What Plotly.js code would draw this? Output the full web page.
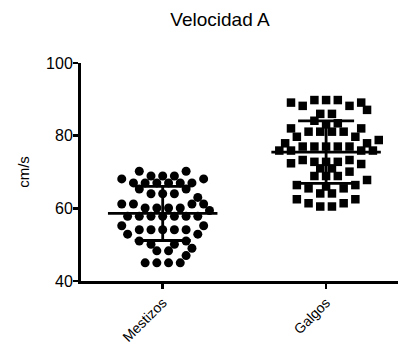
<!DOCTYPE html>
<html>
<head>
<meta charset="utf-8">
<script src="https://cdn.plot.ly/plotly-3.0.1.min.js"></script>
<style>html,body{margin:0;padding:0;background:#fff;}#chart{width:398px;height:344px;}</style>
</head>
<body>
<div id="chart"></div>
<script>
// ---- data ----
const categories = ["Mestizos", "Galgos"];
const mestizos = [
  70.2, 70.2, 68.9, 68.9, 68.9, 68.1, 68.1,
  67.0, 67.0, 67.0, 67.0, 67.0, 67.0, 65.3, 65.3,
  64.0, 64.0, 64.0, 63.0,
  61.2, 61.2, 61.2, 61.2, 60.1, 60.1, 60.1, 60.1, 59.4,
  57.8, 57.8, 57.8, 57.8, 57.8, 57.8, 57.8,
  55.2, 55.2, 54.1, 54.1, 54.1, 54.1, 54.1, 52.9, 52.9,
  51.0, 51.0, 50.1, 50.1, 49.0, 48.3, 48.3, 47.0,
  45.0, 45.0, 45.0, 45.0
];
const galgos = [
  89.8, 89.8, 89.8, 89.1, 89.1, 88.2, 88.2, 87.1, 86.0, 86.0,
  84.1, 83.4, 83.1, 82.0, 82.0, 81.1, 81.1, 81.1, 81.1,
  79.7, 79.7, 78.8, 77.9, 77.9, 77.0, 77.0, 77.0, 77.0, 77.0,
  75.9, 75.9, 75.9, 75.9, 73.3, 73.3, 72.8, 72.8, 72.8, 72.4, 72.2,
  71.0, 71.0, 70.1, 68.9, 68.9, 68.9, 67.8, 66.4, 66.4, 66.0,
  65.5, 65.5, 64.1, 64.1, 62.5, 62.5, 61.4, 61.4, 60.5, 60.5
];
const yTicks = [40, 60, 80, 100];

// ---- layout constants ----
const W = 398, H = 344;
const M = {l: 81, r: 0, t: 63, b: 63};
const XR = [-0.5, 1.44], YR = [40, 100];
const PXX = (W - M.l - M.r) / (XR[1] - XR[0]);   // px per category unit
const PXY = (H - M.t - M.b) / (YR[1] - YR[0]);   // px per value unit
const STEP = 11.7, MIN = 8.5;

// beeswarm-like horizontal spreading of equal / close values
function swarm(vals, ci) {
  const counts = new Map();
  vals.forEach(v => counts.set(v, (counts.get(v) || 0) + 1));
  const rows = [...counts].map(([v, n]) => ({v, n}));
  rows.sort((a, b) => b.n - a.n || a.v - b.v);
  const placed = [];
  const xs = [], ys = [];
  for (const r of rows) {
    const yp = r.v * PXY;
    let chosen = null;
    for (let g = 0; g <= 12 && !chosen; g += 0.5) {
      const cands = [];
      if (g === 0) {
        const o = []; for (let i = 0; i < r.n; i++) o.push(i - (r.n - 1) / 2); cands.push(o);
      } else {
        const nl = Math.floor(r.n / 2), nr = r.n - nl;
        const a = [], b = [];
        for (let i = 0; i < nl; i++) { a.push(-(g + i)); b.push(g + i); }
        for (let i = 0; i < nr; i++) { a.push(g + i); b.push(-(g + i)); }
        cands.push(a); if (nl !== nr) cands.push(b);
      }
      for (const offs of cands) {
        const ok = offs.every(o => placed.every(p => Math.hypot((o - p.o) * STEP, yp - p.y) >= MIN));
        if (ok) { chosen = offs; break; }
      }
    }
    chosen.forEach(o => { placed.push({o, y: yp}); xs.push(ci + o * STEP / PXX); ys.push(r.v); });
  }
  return {x: xs, y: ys};
}
function mean(a) { return a.reduce((s, v) => s + v, 0) / a.length; }
function sd(a) { const m = mean(a); return Math.sqrt(a.reduce((s, v) => s + (v - m) * (v - m), 0) / (a.length - 1)); }

const groups = [mestizos, galgos];
const symbols = ["circle", "square"];
const sizes = [9, 8.5];
const traces = [];
groups.forEach((g, i) => {
  const s = swarm(g, i);
  traces.push({type: "scatter", mode: "markers", x: s.x, y: s.y,
    marker: {symbol: symbols[i], size: sizes[i], color: "#000"}, hoverinfo: "y", showlegend: false});
});
groups.forEach((g, i) => {
  traces.push({type: "scatter", mode: "markers", x: [i], y: [mean(g)],
    marker: {size: 1, color: "rgba(0,0,0,0)"}, showlegend: false,
    error_x: {type: "constant", value: 0.335, width: 0, thickness: 2.8, color: "#000"},
    error_y: {type: "data", array: [sd(g)], width: 28, thickness: 2.8, color: "#000"}});
});

const font = "Liberation Sans, Arial, sans-serif";
const layout = {
  width: W, height: H, margin: M,
  paper_bgcolor: "#fff", plot_bgcolor: "#fff",
  font: {family: font, color: "#000"},
  title: {text: "Velocidad A", x: 220 / W, xref: "container", xanchor: "center",
    y: 1 - 19 / H, yref: "container", yanchor: "middle", font: {size: 19, family: font, color: "#000"}},
  xaxis: {range: XR, tickvals: [0, 1], ticktext: categories, tickangle: -45,
    showline: true, linewidth: 3, linecolor: "#000", ticks: "outside", ticklen: 5, tickwidth: 2.5,
    tickcolor: "#000", showgrid: false, zeroline: false,
    tickfont: {size: 14, family: font, color: "#000"}},
  yaxis: {range: YR, tickvals: yTicks, showline: true, linewidth: 3, linecolor: "#000",
    ticks: "outside", ticklen: 5, tickwidth: 2.5, tickcolor: "#000", showgrid: false, zeroline: false,
    ticklabelstandoff: -3,
    tickfont: {size: 16, family: font, color: "#000"},
    title: {text: "cm/s", standoff: 13, font: {size: 15, family: font, color: "#000"}}}
};
Plotly.newPlot("chart", traces, layout, {displayModeBar: false, staticPlot: true});
</script>
</body>
</html>
